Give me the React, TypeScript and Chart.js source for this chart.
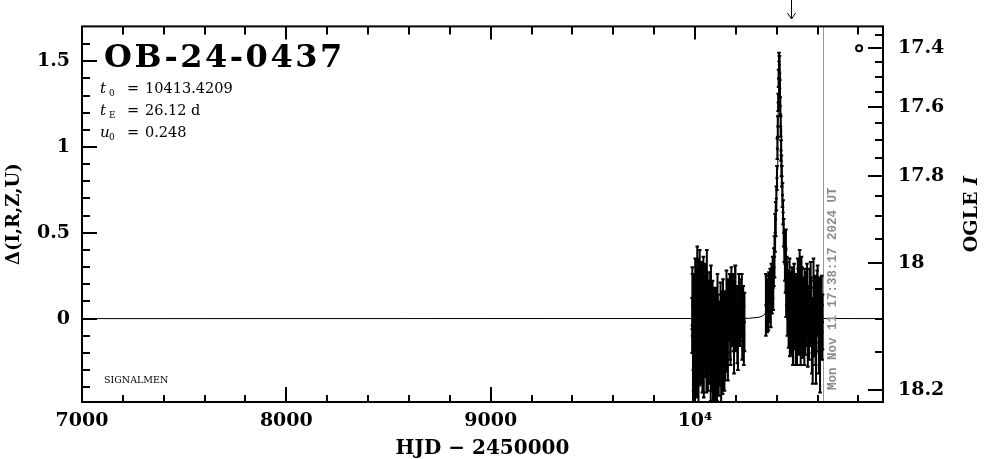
import React, { useEffect, useRef } from 'react';
import { Chart, registerables } from 'chart.js';

Chart.register(...registerables);

// ---------- axis ticks ----------
const xMajorTicks = [7000, 8000, 9000, 10000];
const xMajorLabels = ['7000', '8000', '9000', '10⁴'];
const xMinorTicks = [7200, 7400, 7600, 7800, 8200, 8400, 8600, 8800, 9200, 9400, 9600, 9800, 10200, 10400, 10600, 10800];
const yMajorTicks = [0, 0.5, 1, 1.5];
const yMajorLabels = ['0', '0.5', '1', '1.5'];
const yMinorTicks = [-0.4, -0.3, -0.2, -0.1, 0.1, 0.2, 0.3, 0.4, 0.6, 0.7, 0.8, 0.9, 1.1, 1.2, 1.3, 1.4, 1.6];
const magMajorTicks = [17.4, 17.6, 17.8, 18.0, 18.2];
const magMajorLabels = ['17.4', '17.6', '17.8', '18', '18.2'];
const magMinorTicks = [17.35, 17.45, 17.5, 17.55, 17.65, 17.7, 17.75, 17.85, 17.9, 17.95, 18.05, 18.1, 18.15];

// photometric conversion for the right-hand (OGLE I) axis
const baseMag = 18.1;
const sourceFraction = 0.277;
function magToDelta(m: number): number {
  return 2.5 * Math.log10(1 + (Math.pow(10, 0.4 * (baseMag - m)) - 1) / sourceFraction);
}

// ---------- annotations ----------
const eventName = 'OB-24-0437';
const t0Text = '10413.4209';
const tEText = '26.12 d';
const u0Text = '0.248';
const dateStamp = 'Mon Nov 11 17:38:17 2024 UT';
const nowHJD = 10626.23;
const alertHJD = 10470;
const markerHJD = 10803;
const markerMag = 17.4;

// ---------- model curve ----------
const modelHJD = [7000, 10163, 10263, 10313, 10333, 10348, 10361, 10370, 10383, 10391, 10395, 10398, 10402, 10404, 10406, 10409, 10410.4, 10412, 10413.4, 10415, 10416.4, 10418, 10421, 10422.4, 10425, 10428, 10432, 10436, 10444, 10456, 10466, 10478, 10494, 10514, 10564, 10664, 10920];
const modelDelta = [0, 0.0006, 0.0017, 0.0078, 0.0168, 0.033, 0.063, 0.105, 0.234, 0.40, 0.528, 0.653, 0.868, 1.0, 1.109, 1.336, 1.438, 1.511, 1.539, 1.511, 1.438, 1.336, 1.109, 1.0, 0.868, 0.653, 0.528, 0.40, 0.234, 0.105, 0.063, 0.033, 0.0168, 0.0078, 0.0017, 0.0006, 0];

// ---------- OGLE I photometry (HJD-2450000, delta, error) ----------
const obsHJD = [
  9986, 9988, 9990, 9992, 9994, 9996, 9998, 10000, 10003, 10005, 10007, 10009, 10011, 10013, 10015, 10017, 10019, 10021, 10023, 10026,
  10028, 10030, 10032, 10034, 10037, 10039, 10041, 10043, 10046, 10048, 10050, 10053, 10055, 10058, 10060, 10063, 10066, 10068, 10071, 10074,
  10077, 10080, 10083, 10086, 10088, 10091, 10094, 10096, 10099, 10102, 10105, 10107, 10110, 10113, 10116, 10119, 10122, 10125, 10128, 10131,
  10134, 10137, 10140, 10144, 10147, 10150, 10154, 10157, 10161, 10165, 10170, 10174, 10178, 10182, 10187, 10191, 10196, 10200, 10205, 10210,
  10215, 10220, 10226, 10231, 10236, 10242,
  9987, 9993, 9997, 10001, 10006, 10010, 10016, 10020, 10025, 10031, 10036, 10040, 10045, 10051, 10056, 10062, 10067, 10072, 10078, 10084,
  10089, 10093, 10098, 10103, 10108, 10112, 10118, 10123, 10129, 10135, 10141, 10148, 10155, 10163, 10172, 10180, 10189, 10198, 10207, 10218,
  10229, 10239,
  10347, 10350, 10353, 10356, 10359, 10362, 10365, 10368, 10371, 10374, 10377, 10380, 10383, 10386, 10389, 10392, 10395,
  10398, 10401, 10403, 10405, 10407, 10409, 10411, 10413, 10415, 10417, 10419, 10421, 10423, 10425, 10428, 10431, 10434, 10437, 10440,
  10443, 10446, 10449, 10452, 10455, 10458, 10461, 10464, 10467, 10470, 10473, 10476, 10479, 10482, 10485, 10488, 10491, 10494, 10497, 10500,
  10503, 10506, 10509, 10512, 10515, 10518, 10521, 10524, 10527, 10530, 10533, 10536, 10540, 10544, 10548, 10552, 10556, 10560, 10564, 10568,
  10572, 10576, 10580, 10584, 10588, 10592, 10596, 10600, 10604, 10608, 10612, 10616, 10620, 10624,
  10445, 10451, 10457, 10463, 10469, 10475, 10481, 10487, 10493, 10499, 10505, 10511, 10517, 10523, 10529, 10535, 10542, 10550, 10558, 10566,
  10574, 10582, 10590, 10598, 10606, 10614, 10622
];
const obsDelta = [
  -0.04, 0.08, -0.30, 0.02, -0.18, 0.10, -0.08, -0.32, 0.04, -0.12, 0.14, -0.02, 0.22, -0.26, 0.00, -0.38, 0.12, -0.10, 0.20, -0.06,
  0.06, -0.20, 0.16, -0.04, 0.02, -0.14, 0.18, -0.30, 0.08, -0.08, 0.10, -0.18, 0.04, 0.22, -0.02, -0.24, -0.06, 0.06, -0.16, 0.10,
  -0.28, -0.04, -0.16, 0.05, -0.30, -0.10, -0.22, 0.02, -0.14, -0.36, -0.06, -0.20, 0.08, -0.12, -0.26, -0.04, -0.16, 0.04, -0.30, -0.08,
  -0.18, 0.06, -0.10, -0.24, 0.00, -0.14, 0.10, -0.06, -0.20, 0.02, 0.08, -0.10, 0.14, -0.02, 0.06, -0.16, 0.12, -0.04, 0.02, -0.12,
  0.10, -0.02, 0.06, -0.08, 0.04, -0.02,
  0.12, -0.22, -0.02, 0.16, -0.28, 0.04, 0.18, -0.20, 0.10, -0.10, -0.24, 0.06, -0.12, 0.14, -0.26, 0.08, -0.20, 0.00, 0.12, -0.24,
  -0.02, -0.34, -0.08, 0.00, -0.30, -0.02, -0.20, -0.10, 0.00, -0.26, -0.02, -0.20, -0.12, 0.06, -0.06, 0.06, 0.00, 0.14, -0.08, 0.04,
  0.10, -0.10,
  0.08, 0.14, 0.04, 0.12, 0.06, 0.16, 0.10, 0.18, 0.08, 0.20, 0.14, 0.24, 0.18, 0.30, 0.36, 0.50, 0.58,
  0.70, 0.82, 0.99, 1.12, 1.26, 1.40, 1.50, 1.48, 1.34, 1.24, 1.12, 0.98, 0.89, 0.83, 0.72, 0.62, 0.50, 0.42, 0.32,
  0.28, 0.16, 0.22, 0.06, 0.14, -0.02, 0.10, -0.08, 0.04, 0.12, -0.06, 0.08, -0.12, 0.02, 0.16, -0.04, 0.06, -0.10, 0.10, 0.00,
  0.18, -0.06, 0.04, 0.22, -0.02, 0.08, 0.20, 0.02, -0.08, 0.10, 0.00, 0.14, -0.04, 0.06, 0.16, -0.10, 0.04, 0.12, -0.02, 0.08,
  -0.14, -0.22, 0.18, -0.06, 0.10, -0.20, 0.06, 0.14, -0.04, 0.08, -0.24, 0.02, 0.10, -0.02,
  0.40, 0.18, 0.08, 0.20, -0.04, 0.14, -0.10, 0.10, 0.04, -0.12, 0.12, 0.02, -0.10, 0.14, 0.04, -0.12, 0.10, 0.00, -0.06, 0.16,
  -0.04, 0.04, -0.10, 0.12, -0.14, 0.06, -0.08
];
const obsErr = [
  0.16, 0.18, 0.22, 0.15, 0.17, 0.16, 0.15, 0.24, 0.17, 0.20, 0.15, 0.14, 0.20, 0.20, 0.16, 0.17, 0.18, 0.21, 0.20, 0.14,
  0.16, 0.18, 0.17, 0.15, 0.14, 0.17, 0.18, 0.16, 0.15, 0.19, 0.14, 0.16, 0.17, 0.18, 0.17, 0.18, 0.15, 0.16, 0.15, 0.17,
  0.20, 0.14, 0.16, 0.17, 0.18, 0.15, 0.21, 0.16, 0.14, 0.17, 0.15, 0.17, 0.18, 0.16, 0.19, 0.14, 0.15, 0.17, 0.20, 0.16,
  0.14, 0.17, 0.15, 0.18, 0.16, 0.17, 0.18, 0.14, 0.16, 0.15, 0.18, 0.17, 0.16, 0.14, 0.20, 0.16, 0.19, 0.15, 0.17, 0.18,
  0.16, 0.14, 0.17, 0.16, 0.15, 0.17,
  0.18, 0.20, 0.17, 0.19, 0.18, 0.16, 0.17, 0.19, 0.18, 0.17, 0.19, 0.18, 0.16, 0.18, 0.17, 0.19, 0.18, 0.16, 0.19, 0.18,
  0.17, 0.16, 0.19, 0.17, 0.18, 0.16, 0.19, 0.17, 0.16, 0.18, 0.17, 0.16, 0.18, 0.17, 0.18, 0.16, 0.19, 0.17, 0.18, 0.17,
  0.16, 0.17,
  0.18, 0.11, 0.12, 0.11, 0.13, 0.11, 0.12, 0.11, 0.13, 0.12, 0.11, 0.12, 0.13, 0.11, 0.12, 0.11, 0.10,
  0.07, 0.07, 0.06, 0.06, 0.05, 0.05, 0.05, 0.05, 0.05, 0.05, 0.06, 0.06, 0.06, 0.06, 0.07, 0.07, 0.08, 0.09, 0.10,
  0.13, 0.15, 0.14, 0.16, 0.14, 0.15, 0.16, 0.14, 0.17, 0.15, 0.14, 0.16, 0.15, 0.17, 0.16, 0.14, 0.15, 0.17, 0.16, 0.14,
  0.17, 0.15, 0.16, 0.18, 0.18, 0.14, 0.16, 0.17, 0.15, 0.14, 0.16, 0.15, 0.17, 0.14, 0.16, 0.18, 0.15, 0.17, 0.14, 0.16,
  0.18, 0.16, 0.17, 0.16, 0.15, 0.18, 0.16, 0.17, 0.15, 0.16, 0.19, 0.17, 0.15, 0.16,
  0.12, 0.15, 0.16, 0.15, 0.17, 0.16, 0.17, 0.16, 0.18, 0.15, 0.17, 0.16, 0.17, 0.16, 0.18, 0.15, 0.17, 0.16, 0.18, 0.17,
  0.16, 0.18, 0.17, 0.16, 0.18, 0.17, 0.16
];

const Y_MIN = -0.486;
const Y_MAX = 1.703;
const SERIF = '"DejaVu Serif", serif';

const decorPlugin = {
  id: 'decor',
  beforeDatasetsDraw(chart: any) {
    const { ctx, chartArea: ca, scales } = chart;
    const gx = Math.round(scales.x.getPixelForValue(nowHJD)) + 0.5;
    ctx.save();
    ctx.strokeStyle = '#9a9a9a';
    ctx.lineWidth = 1;
    ctx.beginPath();
    ctx.moveTo(gx, ca.top);
    ctx.lineTo(gx, ca.bottom);
    ctx.stroke();
    ctx.restore();
  },
  afterDatasetsDraw(chart: any) {
    const { ctx, chartArea: ca, scales } = chart;
    const x = scales.x;
    const y = scales.y;
    ctx.save();
    ctx.beginPath();
    ctx.rect(ca.left, ca.top, ca.right - ca.left, ca.bottom - ca.top);
    ctx.clip();
    ctx.strokeStyle = '#000';
    ctx.lineWidth = 2;
    ctx.beginPath();
    for (let i = 0; i < obsHJD.length; i++) {
      const px = x.getPixelForValue(obsHJD[i]);
      const y1 = y.getPixelForValue(obsDelta[i] - obsErr[i]);
      const y2 = y.getPixelForValue(obsDelta[i] + obsErr[i]);
      ctx.moveTo(px, y1);
      ctx.lineTo(px, y2);
      ctx.moveTo(px - 1.8, y1);
      ctx.lineTo(px + 1.8, y1);
      ctx.moveTo(px - 1.8, y2);
      ctx.lineTo(px + 1.8, y2);
    }
    ctx.stroke();
    ctx.restore();
  },
  afterDraw(chart: any) {
    const { ctx, chartArea: ca, scales } = chart;
    const x = scales.x;
    const y = scales.y;
    ctx.save();
    // frame
    ctx.strokeStyle = '#000';
    ctx.lineWidth = 2;
    ctx.strokeRect(ca.left, ca.top, ca.right - ca.left, ca.bottom - ca.top);
    // ticks (pointing inward)
    ctx.beginPath();
    const seg = (x1: number, y1: number, x2: number, y2: number) => {
      ctx.moveTo(x1, y1);
      ctx.lineTo(x2, y2);
    };
    xMajorTicks.forEach((v) => {
      const p = Math.round(x.getPixelForValue(v));
      seg(p, ca.bottom, p, ca.bottom - 15);
      seg(p, ca.top, p, ca.top + 13);
    });
    xMinorTicks.forEach((v) => {
      const p = Math.round(x.getPixelForValue(v));
      seg(p, ca.bottom, p, ca.bottom - 7);
      seg(p, ca.top, p, ca.top + 8);
    });
    yMajorTicks.forEach((v) => {
      const p = Math.round(y.getPixelForValue(v));
      seg(ca.left, p, ca.left + 15, p);
    });
    yMinorTicks.forEach((v) => {
      const p = Math.round(y.getPixelForValue(v));
      seg(ca.left, p, ca.left + 8, p);
    });
    magMajorTicks.forEach((m) => {
      const p = Math.round(y.getPixelForValue(magToDelta(m)));
      seg(ca.right, p, ca.right - 15, p);
    });
    magMinorTicks.forEach((m) => {
      const p = Math.round(y.getPixelForValue(magToDelta(m)));
      seg(ca.right, p, ca.right - 8, p);
    });
    ctx.stroke();

    // alert arrow above the frame
    const ax = Math.round(x.getPixelForValue(alertHJD)) + 0.5;
    ctx.lineWidth = 1;
    ctx.beginPath();
    ctx.moveTo(ax, 0);
    ctx.lineTo(ax, 19);
    ctx.moveTo(ax - 4, 13);
    ctx.lineTo(ax, 19);
    ctx.lineTo(ax + 4, 13);
    ctx.stroke();

    // event name and parameters
    ctx.fillStyle = '#000';
    ctx.textBaseline = 'alphabetic';
    ctx.textAlign = 'left';
    ctx.font = `bold 32px ${SERIF}`;
    (ctx as any).letterSpacing = '2.5px';
    ctx.fillText(eventName, ca.left + 22, 67);
    (ctx as any).letterSpacing = '0px';

    const paramRow = (sym: string, sub: string, val: string, base: number) => {
      ctx.font = `italic 15px ${SERIF}`;
      ctx.fillText(sym, ca.left + 18, base);
      ctx.font = `9px ${SERIF}`;
      ctx.fillText(sub, ca.left + 27, base + 3);
      ctx.font = `14.5px ${SERIF}`;
      ctx.fillText('=', ca.left + 45, base);
      ctx.fillText(val, ca.left + 63, base);
    };
    paramRow('t', '0', t0Text, 93);
    paramRow('t', 'E', tEText, 115);
    paramRow('u', '0', u0Text, 137);

    ctx.font = `9.5px ${SERIF}`;
    ctx.fillText('SIGNALMEN', ca.left + 22, 383);

    // time stamp along the "now" line
    const gx = x.getPixelForValue(nowHJD);
    ctx.save();
    ctx.translate(gx + 13, ca.bottom - 12);
    ctx.rotate(-Math.PI / 2);
    ctx.fillStyle = '#8c8c8c';
    ctx.font = 'bold 12.5px "Liberation Mono", monospace';
    ctx.textBaseline = 'alphabetic';
    ctx.fillText(dateStamp, 0, 0);
    ctx.restore();

    // right axis title (reads bottom to top)
    ctx.save();
    ctx.fillStyle = '#000';
    ctx.font = `bold 19px ${SERIF}`;
    const w1 = ctx.measureText('OGLE ').width;
    ctx.font = `bold italic 19px ${SERIF}`;
    const w2 = ctx.measureText('I').width;
    const cy = (ca.top + ca.bottom) / 2;
    ctx.translate(972, cy + (w1 + w2) / 2);
    ctx.rotate(-Math.PI / 2);
    ctx.textBaseline = 'middle';
    ctx.font = `bold 19px ${SERIF}`;
    ctx.fillText('OGLE ', 0, 0);
    ctx.font = `bold italic 19px ${SERIF}`;
    ctx.fillText('I', w1, 0);
    ctx.restore();

    ctx.restore();
  },
};

export default function App() {
  const ref = useRef<HTMLCanvasElement>(null);
  useEffect(() => {
    document.body.style.margin = '0';
    const canvas = ref.current;
    if (!canvas) return;
    const tickFont = { family: SERIF, size: 19, weight: 'bold' as const };
    const chart = new Chart(canvas, {
      type: 'scatter',
      data: {
        datasets: [
          {
            label: 'PSPL model',
            data: modelHJD.map((t, i) => ({ x: t, y: modelDelta[i] })),
            showLine: true,
            borderColor: '#000',
            borderWidth: 1,
            pointRadius: 0,
            tension: 0,
            order: 3,
          },
          {
            label: 'OGLE I',
            data: obsHJD.map((t, i) => ({ x: t, y: obsDelta[i] })),
            pointRadius: 1.6,
            backgroundColor: '#000',
            borderColor: '#000',
            borderWidth: 0,
            order: 2,
          },
          {
            label: 'marker',
            data: [{ x: markerHJD, y: magToDelta(markerMag) }],
            pointRadius: 3,
            borderWidth: 2,
            borderColor: '#000',
            backgroundColor: '#fff',
            order: 1,
          },
        ],
      },
      options: {
        animation: false,
        responsive: false,
        devicePixelRatio: 1,
        events: [],
        layout: { padding: { top: 25, left: 0, right: 0, bottom: 0 } },
        plugins: { legend: { display: false }, tooltip: { enabled: false } },
        scales: {
          x: {
            type: 'linear',
            position: 'bottom',
            min: 7000,
            max: 10920,
            afterBuildTicks: (s: any) => {
              s.ticks = xMajorTicks.map((v) => ({ value: v }));
            },
            afterFit: (s: any) => {
              s.height = 57;
            },
            ticks: {
              autoSkip: false,
              maxRotation: 0,
              padding: 8,
              color: '#000',
              font: tickFont,
              callback: (_v: any, i: number) => xMajorLabels[i],
            },
            grid: { display: false, drawTicks: false },
            border: { display: false },
            title: {
              display: true,
              text: 'HJD − 2450000',
              color: '#000',
              font: { family: SERIF, size: 20, weight: 'bold', lineHeight: 1 },
              padding: { top: 0, bottom: 0 },
            },
          },
          y: {
            type: 'linear',
            position: 'left',
            min: Y_MIN,
            max: Y_MAX,
            afterBuildTicks: (s: any) => {
              s.ticks = yMajorTicks.map((v) => ({ value: v }));
            },
            afterFit: (s: any) => {
              s.width = 82;
            },
            ticks: {
              autoSkip: false,
              padding: 12,
              color: '#000',
              font: tickFont,
              callback: (_v: any, i: number) => yMajorLabels[i],
            },
            grid: { display: false, drawTicks: false },
            border: { display: false },
            title: {
              display: true,
              text: 'Δ(I,R,Z,U)',
              color: '#000',
              font: { family: SERIF, size: 18, weight: 'bold', lineHeight: 1 },
              padding: { top: 5, bottom: 0 },
            },
          },
          y2: {
            type: 'linear',
            position: 'right',
            min: Y_MIN,
            max: Y_MAX,
            afterBuildTicks: (s: any) => {
              s.ticks = magMajorTicks.map((m) => ({ value: magToDelta(m) }));
            },
            afterFit: (s: any) => {
              s.width = 103;
            },
            ticks: {
              autoSkip: false,
              padding: 15,
              color: '#000',
              font: tickFont,
              callback: (_v: any, i: number) => magMajorLabels[i],
            },
            grid: { display: false, drawTicks: false },
            border: { display: false },
          },
        },
      },
      plugins: [decorPlugin],
    });
    return () => chart.destroy();
  }, []);
  return (
    <div style={{ width: 986, height: 459 }}>
      <canvas ref={ref} width={986} height={459} style={{ display: 'block' }} />
    </div>
  );
}
